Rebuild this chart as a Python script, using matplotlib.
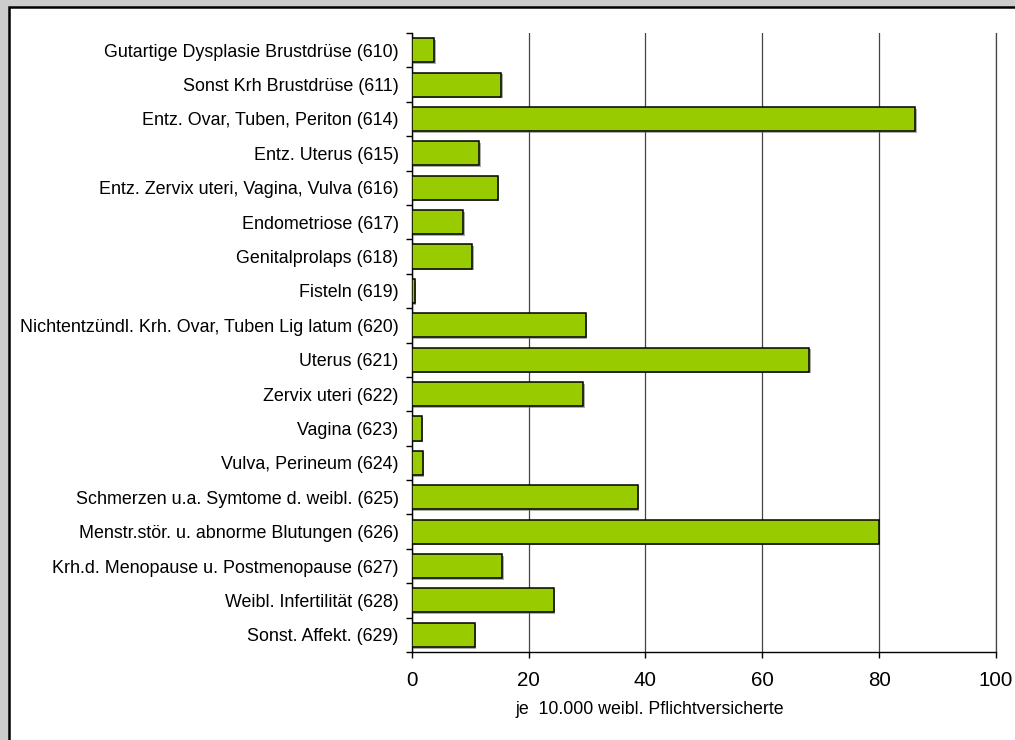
import matplotlib
matplotlib.use('Agg')
import matplotlib.pyplot as plt
import matplotlib.patheffects as pe
from matplotlib.patches import Rectangle
import numpy as np

plt.rcParams['font.family'] = ['Liberation Sans', 'DejaVu Sans']

# Diagnosen (Schlüssel) und Werte je 10.000 weibl. Pflichtversicherte
categories = [
    'Gutartige Dysplasie Brustdrüse (610)',
    'Sonst Krh Brustdrüse (611)',
    'Entz. Ovar, Tuben, Periton (614)',
    'Entz. Uterus (615)',
    'Entz. Zervix uteri, Vagina, Vulva (616)',
    'Endometriose (617)',
    'Genitalprolaps (618)',
    'Fisteln (619)',
    'Nichtentzündl. Krh. Ovar, Tuben Lig latum (620)',
    'Uterus (621)',
    'Zervix uteri (622)',
    'Vagina (623)',
    'Vulva, Perineum (624)',
    'Schmerzen u.a. Symtome d. weibl. (625)',
    'Menstr.stör. u. abnorme Blutungen (626)',
    'Krh.d. Menopause u. Postmenopause (627)',
    'Weibl. Infertilität (628)',
    'Sonst. Affekt. (629)',
]
values = [3.8, 15.3, 86.2, 11.5, 14.7, 8.8, 10.4, 0.5, 29.8, 68.0,
          29.4, 1.7, 1.9, 38.7, 79.9, 15.5, 24.3, 10.8]
xticks = [0, 20, 40, 60, 80, 100]
xlabel = 'je  10.000 weibl. Pflichtversicherte'

W, H = 1015, 740
fig = plt.figure(figsize=(W / 100, H / 100), dpi=100)
fig.patch.set_facecolor('#cccccc')

# white panel with black frame (cut off on right/bottom)
panel = Rectangle((9 / W, -0.05), 1.2, (H - 7.5) / H + 0.05, transform=fig.transFigure,
                  facecolor='white', edgecolor='black', linewidth=1.8, zorder=-10)
fig.patches.append(panel)

ax = fig.add_axes([411.7 / W, (H - 652) / H, (996 - 411.7) / W, (652 - 33) / H])
ax.set_zorder(1)
ax.set_facecolor('white')

y = np.arange(len(categories))
bars = ax.barh(y, values, height=0.7, color='#99cc00', edgecolor='black',
               linewidth=1.1, zorder=3)
for b in bars:
    b.set_path_effects([pe.SimplePatchShadow(offset=(1.2, -1.2), shadow_rgbFace='#777777', alpha=0.6),
                        pe.Normal()])

ax.set_xlim(0, 100)
ax.set_ylim(len(categories) - 0.5, -0.5)

# category boundaries get the tick marks, labels sit in the middle
ax.set_yticks(np.arange(len(categories) + 1) - 0.5)
ax.set_yticklabels([])
ax.set_yticks(y, minor=True)
ax.set_yticklabels(categories, minor=True, fontsize=12.9)
ax.tick_params(axis='y', which='major', length=4, width=1, direction='out', color='black')
ax.tick_params(axis='y', which='minor', length=0, pad=9.5)

ax.set_xticks(xticks)
ax.set_xticklabels([str(t) for t in xticks], fontsize=14.8)
ax.tick_params(axis='x', length=4, width=1, direction='out', pad=10, color='black')

ax.xaxis.grid(True, color='#444444', linewidth=0.9, zorder=1)
ax.set_axisbelow(True)

ax.spines['top'].set_visible(False)
ax.spines['right'].set_color('#444444')
ax.spines['right'].set_linewidth(0.9)
ax.spines['left'].set_linewidth(1.0)
ax.spines['bottom'].set_linewidth(1.0)

ax.set_xlabel(xlabel, fontsize=12.8)
ax.xaxis.set_label_coords(0.408, -0.079)

fig.savefig('out.png', dpi=100, facecolor=fig.get_facecolor())
